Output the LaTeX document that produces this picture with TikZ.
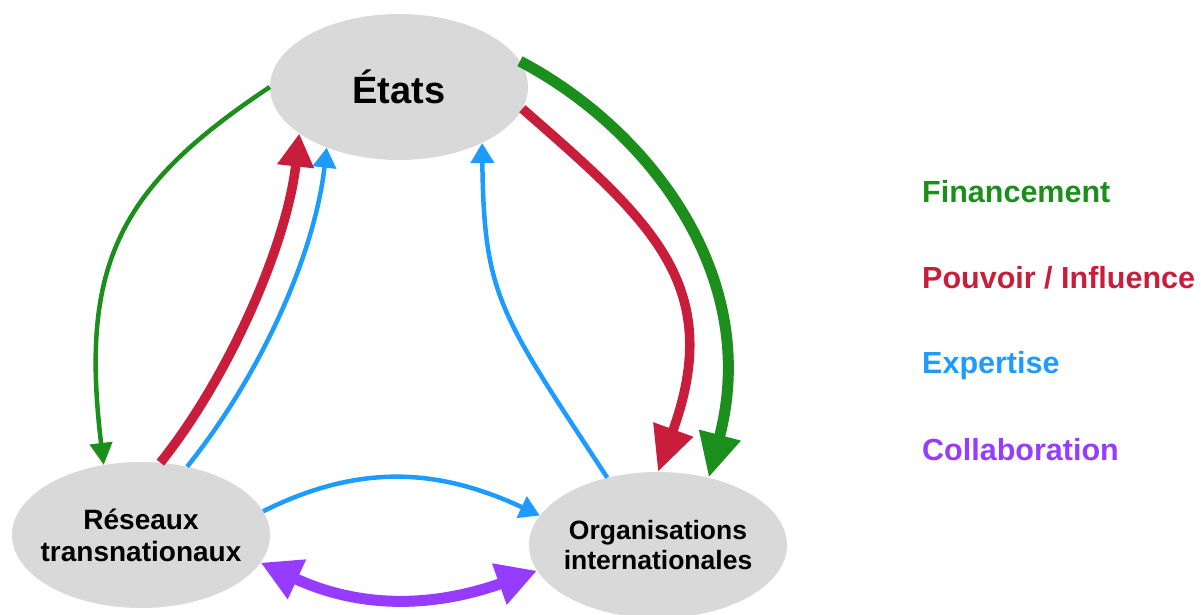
\documentclass[tikz,border=0pt]{standalone}
\usepackage{fontspec}
\setmainfont{Liberation Sans}
\usetikzlibrary{arrows.meta,shapes.geometric}
\definecolor{cgreen}{HTML}{1B8E1B}
\definecolor{cred}{HTML}{C81E3C}
\definecolor{cblue}{HTML}{1E9BFF}
\definecolor{cpurple}{HTML}{963CFF}
\definecolor{cgray}{HTML}{D9D9D9}
\begin{document}
\begin{tikzpicture}[x=1pt,y=1pt,
  blob/.style={ellipse, fill=cgray, minimum width=258pt, minimum height=146pt, inner sep=0pt},
  blobtext/.style={font=\fontsize{28}{32}\selectfont\bfseries, align=center},
  fingthin/.style={draw=cgreen, line width=4.5pt, -{Triangle[length=22pt,width=22pt]}},
  expertarrow/.style={draw=cblue, line width=4.5pt, -{Triangle[length=20pt,width=23pt]}},
  powerup/.style={draw=cred, line width=9.5pt, -{Triangle[length=33pt,width=35pt]}},
  powerdown/.style={draw=cred, line width=9.5pt, -{Triangle[length=45pt,width=40pt]}},
  fingthick/.style={draw=cgreen, line width=11pt, -{Triangle[length=44pt,width=40pt]}},
  collab/.style={draw=cpurple, line width=11pt, {Triangle[length=40pt,width=41pt]}-{Triangle[length=40pt,width=41pt]}},
  legend/.style={anchor=base west, inner sep=0pt, font=\fontsize{30.5}{36}\selectfont\bfseries}
]
\useasboundingbox (0,0) rectangle (1201,614);
\node[blob, font=\fontsize{38}{42}\selectfont\bfseries] (E) at (399,527) {États};
\node[blob, label={[blobtext]center:Réseaux\\transnationaux}] (R) at (141,79) {};
\node[blob, label={[blobtext, font=\fontsize{26.5}{30}\selectfont\bfseries]center:Organisations\\internationales}] (O) at (658,69) {};

\draw[fingthin] (E.180) .. controls (121,428) and (79,352) .. (R.118);
\draw[powerup] (R.75) .. controls (229,237) and (287,370) .. (E.205);
\draw[expertarrow] (R.56) .. controls (257,234) and (314,355) .. (E.220);
\draw[expertarrow] (O.127) .. controls (500,300) and (484,317) .. (E.326);
\draw[powerdown] (E.350) .. controls (649.5,394) and (726,330) .. (O.90);
\draw[fingthick] (E.12) .. controls (644.6,487.6) and (762.5,341) .. (O.53);
\draw[expertarrow] (R.11) .. controls (361,151.5) and (440,145) .. (O.166);
\draw[collab] (R.347) .. controls (361,5) and (433.6,6.6) .. (O.192);

\node[legend, text=cgreen] (l1) at (922,411) {Financement};
\node[legend, text=cred] (l2) at (922,326) {Pouvoir / Influence};
\node[legend, text=cblue] (l3) at (922,241) {Expertise};
\node[legend, text=cpurple] (l4) at (922,154) {Collaboration};
\end{tikzpicture}
\end{document}
